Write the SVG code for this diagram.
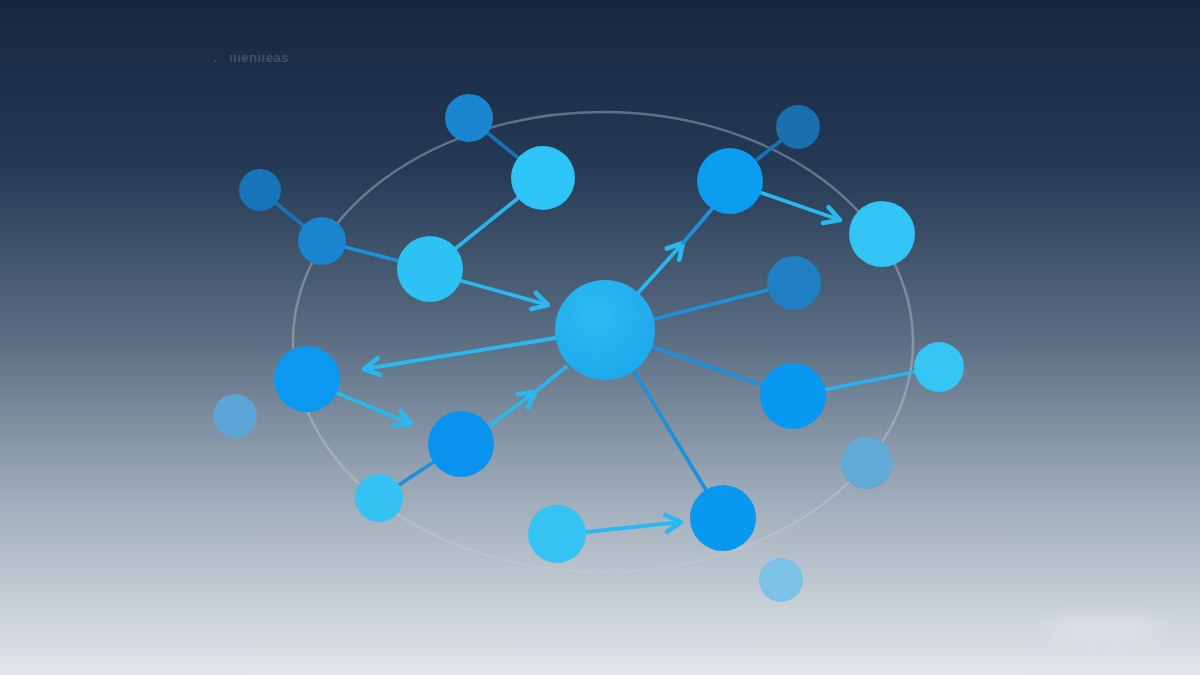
<svg xmlns="http://www.w3.org/2000/svg" width="1200" height="675" viewBox="0 0 1200 675">
<defs>
<linearGradient id="bg" x1="0" y1="0" x2="0" y2="1">
<stop offset="0" stop-color="#152640"/>
<stop offset="0.25" stop-color="#253a55"/>
<stop offset="0.5" stop-color="#5a6d82"/>
<stop offset="0.72" stop-color="#9aa8b6"/>
<stop offset="1" stop-color="#e2e6ea"/>
</linearGradient>
<radialGradient id="hubg" cx="0.4" cy="0.35" r="0.7">
<stop offset="0" stop-color="#2cbcf4"/>
<stop offset="1" stop-color="#1ea8ec"/>
</radialGradient>
<filter id="blur" x="-50%" y="-50%" width="200%" height="200%">
<feGaussianBlur stdDeviation="8"/>
</filter>
<marker id="ah" viewBox="0 0 12 12" markerUnits="userSpaceOnUse" markerWidth="24" markerHeight="24" refX="10" refY="6" orient="auto">
<path d="M2.5,1.8 L10,6 L2.5,10.2" fill="none" stroke="#2ab8f0" stroke-width="2.3" stroke-linecap="round" stroke-linejoin="round"/>
</marker>
<style>
.ring{fill:none;stroke:#c5ccd4;stroke-opacity:0.4;stroke-width:2.5}
.e{stroke-width:3.8;stroke-linecap:round;fill:none}
.ed{stroke:#1a72b6}
.em{stroke:#1f8fd8}
.el{stroke:#2ab3ee}
.a{stroke:#2ab8f0;marker-end:url(#ah)}
.lbl{font-family:"Liberation Sans",Arial,sans-serif;font-size:13px;font-weight:bold;fill:#3e5069;letter-spacing:0.5px}
</style>
</defs>
<rect width="1200" height="675" fill="url(#bg)"/>
<ellipse cx="1105" cy="628" rx="60" ry="12" fill="#f2f4f6" opacity="0.35" filter="url(#blur)"/>
<text class="lbl" x="229" y="62">ıııenııeas</text>
<circle cx="215" cy="61" r="1" fill="#3e5069"/>
<ellipse class="ring" cx="603" cy="342" rx="310" ry="230"/>
<g id="connectors">
<line class="e ed" x1="469" y1="118" x2="543" y2="178"/>
<line class="e ed" x1="260" y1="190" x2="322" y2="241"/>
<line class="e em" x1="322" y1="241" x2="430" y2="269"/>
<line class="e el" x1="430" y1="269" x2="543" y2="178"/>
<line class="e a" x1="462" y1="281" x2="548" y2="305"/>
<line class="e a" x1="556" y1="338" x2="364" y2="369"/>
<line class="e a" x1="337" y1="393" x2="411" y2="424"/>
<line class="e a" x1="488" y1="427" x2="535" y2="392"/>
<line class="e el" x1="535" y1="392" x2="566" y2="367"/>
<line class="e a" x1="638" y1="293" x2="683" y2="243"/>
<line class="e em" x1="683" y1="243" x2="712" y2="209"/>
<line class="e ed" x1="730" y1="181" x2="798" y2="127"/>
<line class="e a" x1="762" y1="193" x2="840" y2="220"/>
<line class="e em" x1="650" y1="320" x2="772" y2="289"/>
<line class="e em" x1="650" y1="346" x2="793" y2="396"/>
<line class="e el" x1="793" y1="396" x2="939" y2="367"/>
<line class="e em" x1="632" y1="368" x2="723" y2="518"/>
<line class="e em" x1="461" y1="444" x2="379" y2="498"/>
<line class="e a" x1="586" y1="532" x2="681" y2="522"/>
</g>
<g id="n1"><circle cx="469" cy="118" r="24" fill="#1a85d0"/></g>
<g id="n2"><circle cx="543" cy="178" r="32" fill="#2ec4f5"/></g>
<g id="n3"><circle cx="260" cy="190" r="21" fill="#1874b8"/></g>
<g id="n4"><circle cx="322" cy="241" r="24" fill="#1a84cf"/></g>
<g id="n5"><circle cx="430" cy="269" r="33" fill="#2ec1f3"/></g>
<g id="hub"><circle cx="605" cy="330" r="50" fill="url(#hubg)"/></g>
<g id="n7"><circle cx="730" cy="181" r="33" fill="#0b9df0"/></g>
<g id="n8"><circle cx="798" cy="127" r="22" fill="#1a6fae"/></g>
<g id="n9"><circle cx="882" cy="234" r="33" fill="#31c4f5"/></g>
<g id="n10"><circle cx="794" cy="283" r="27" fill="#2180c4"/></g>
<g id="n11"><circle cx="307" cy="379" r="33" fill="#0b98f0"/></g>
<g id="n12"><circle cx="235" cy="416" r="22" fill="#5ba6d6"/></g>
<g id="n13"><circle cx="461" cy="444" r="33" fill="#0a93ee"/></g>
<g id="n14"><circle cx="379" cy="498" r="24" fill="#35c2f3"/></g>
<g id="n15"><circle cx="793" cy="396" r="33" fill="#0898ef"/></g>
<g id="n16"><circle cx="939" cy="367" r="25" fill="#35c6f6"/></g>
<g id="n17"><circle cx="867" cy="463" r="26" fill="#62aad5"/></g>
<g id="n18"><circle cx="557" cy="534" r="29" fill="#36c2f2"/></g>
<g id="n19"><circle cx="723" cy="518" r="33" fill="#0898ef"/></g>
<g id="n20"><circle cx="781" cy="580" r="22" fill="#7cc2e6"/></g>
</svg>
